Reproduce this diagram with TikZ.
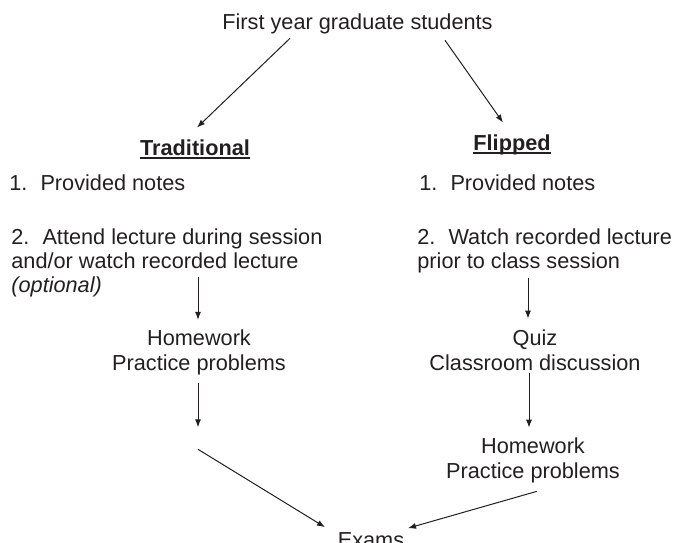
\documentclass[tikz,border=0pt]{standalone}
\usepackage{fontspec}
\setmainfont{Liberation Sans}
\usetikzlibrary{arrows.meta,calc}
\definecolor{inkdark}{RGB}{35,31,32}

\begin{document}
\begin{tikzpicture}[x=0.5pt,y=-0.5pt,
    every node/.style={inner sep=0pt, text=inkdark, font=\fontsize{10.85}{12}\selectfont},
    heading/.style={anchor=base, font=\fontsize{10.85}{12}\selectfont\bfseries},
    item/.style={anchor=base west, align=left},
    stage/.style={anchor=base, align=center, font=\fontsize{10.85}{12.5}\selectfont},
    flow/.style={-{Latex[length=4pt,width=3pt]}, draw=inkdark, line width=0.5pt},
    uline/.style={draw=inkdark, line width=1pt}]
  \useasboundingbox (0,0) rectangle (675,542);

  % start and the two course formats
  \node[anchor=base] (title) at (357.5,29) {First year graduate students};
  \node[heading] (trad) at (195,155) {Traditional};
  \node[heading] (flip) at (512,150) {Flipped};
  \draw[uline] ($(trad.base west)+(0,3)$) -- ($(trad.base east)+(0,3)$);
  \draw[uline] ($(flip.base west)+(0,3)$) -- ($(flip.base east)+(0,3)$);

  % traditional column (multi-line nodes sit on their last baseline)
  \node[item] (lnotes) at (9,190) {1.\hspace{0.6em}Provided notes};
  \node[item] (lpara) at (11,292)
    {2.\hspace{0.6em}Attend lecture during session\\
     and/or watch recorded lecture\\
     \textit{(optional)}};
  \node[stage] (lhw) at (199,370) {Homework\\Practice problems};

  % flipped column
  \node[item] (rnotes) at (419,190) {1.\hspace{0.6em}Provided notes};
  \node[item] (rpara) at (417,268)
    {2.\hspace{0.6em}Watch recorded lecture\\
     prior to class session};
  \node[stage] (rquiz) at (535,370) {Quiz\\Classroom discussion};
  \node[stage] (rhw) at (533,478) {Homework\\Practice problems};

  % both end in the exams
  \node[anchor=base] (exams) at (371,547.5) {Exams};

  % arrows
  \draw[flow] ($(title.south)+(-67.5,4.4)$) -- ($(trad.north)+(2,-11.3)$);
  \draw[flow] ($(title.south)+(87.5,6.4)$) -- ($(flip.north)+(-9,-11.3)$);

  \draw[flow] ($(lpara.south -| lhw.north)+(-1,-19.6)$) -- ($(lhw.north)+(-1,-9)$);
  \coordinate (lstop) at ($(lhw.south)+(-1,52.4)$);
  \coordinate (lrejoin) at ($(lstop)+(0,22)$);
  \draw[flow] ($(lhw.south)+(-1,8.4)$) -- (lstop);
  \draw[flow] (lrejoin) -- ($(exams.north)+(-46,-5)$);

  \draw[flow] ($(rpara.south -| rquiz.north)+(-7,5.4)$) -- ($(rquiz.north)+(-7,-10.2)$);
  \draw[flow] ($(rquiz.south)+(-6,2.4)$) -- ($(rhw.north)+(-4,-9.2)$);
  \draw[flow] ($(rhw.south)+(4,8.4)$) -- ($(exams.north)+(37,-4)$);
\end{tikzpicture}
\end{document}
